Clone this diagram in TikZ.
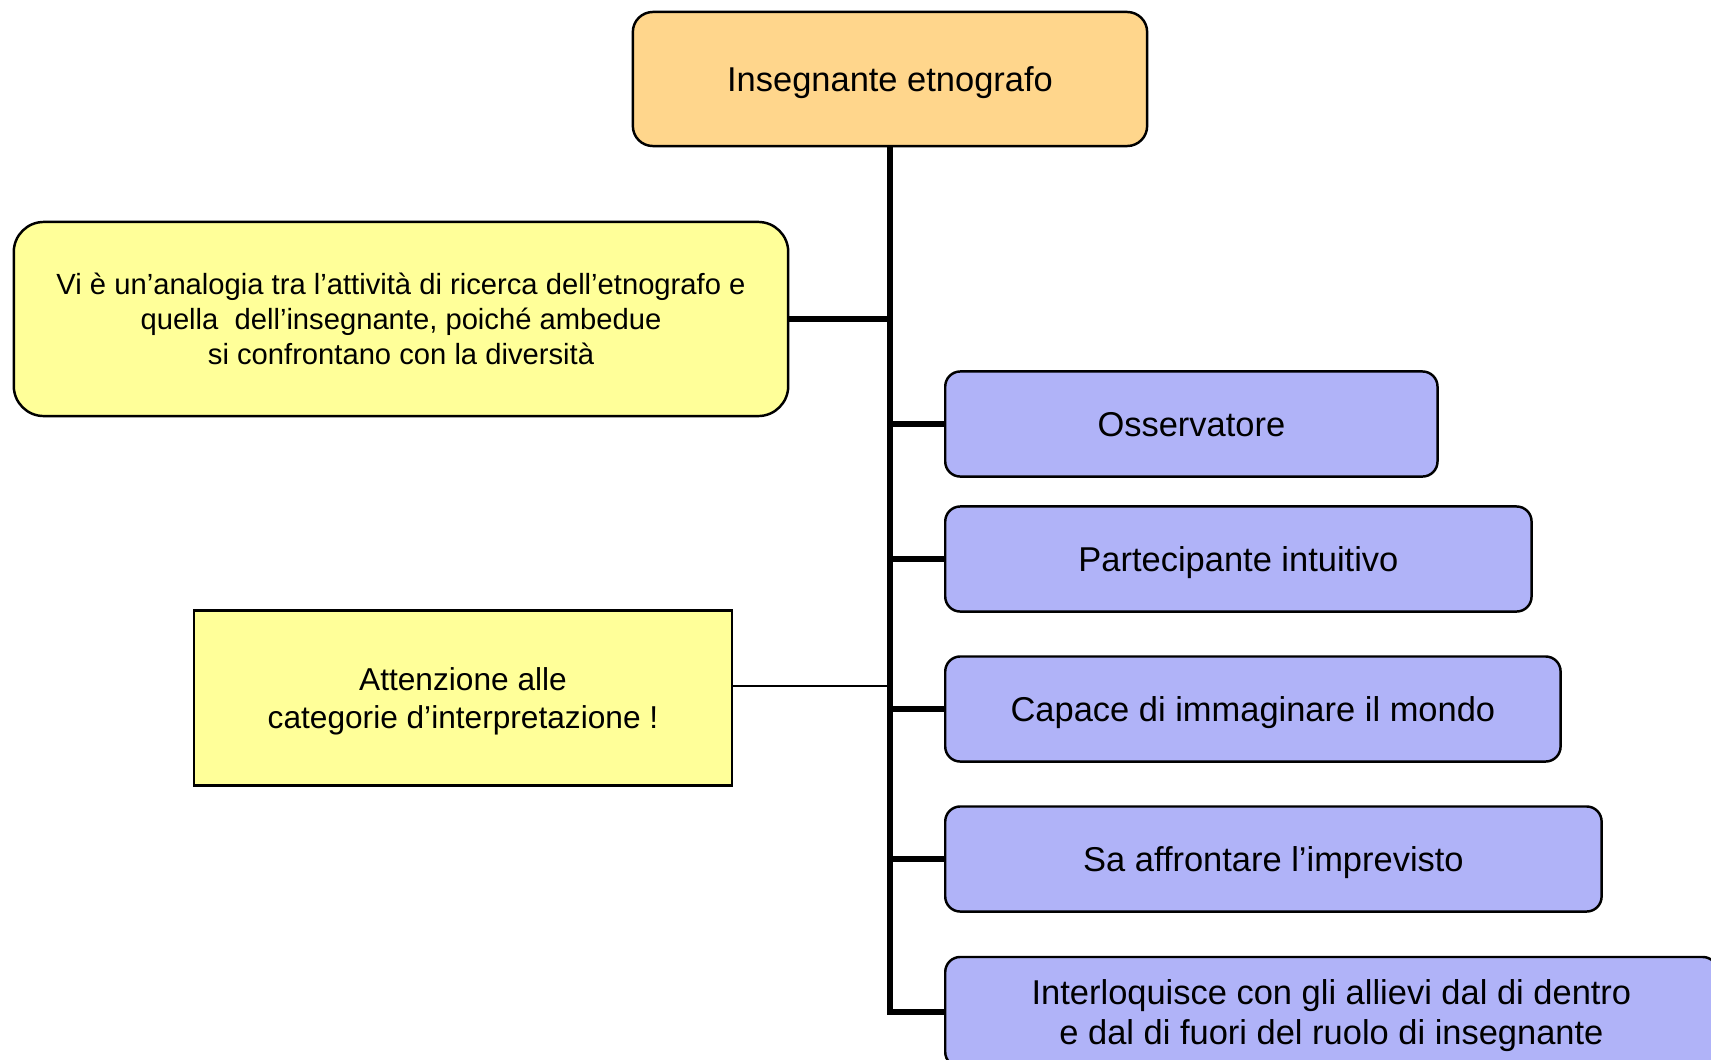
\documentclass[tikz,border=0pt]{standalone}
\usepackage{fontspec}
\setmainfont{Liberation Sans}
\usepackage{xcolor}
\usetikzlibrary{positioning}
\definecolor{rootfill}{RGB}{255,214,140}
\definecolor{notefill}{RGB}{255,255,153}
\definecolor{itemfill}{RGB}{176,179,248}

\begin{document}
\begin{tikzpicture}[x=0.01cm, y=-0.01cm]
\tikzset{RootStyle/.style = {draw, fill=rootfill, rounded corners=0.2cm, line width=0.7pt, text depth=0pt, minimum width=5.14cm, minimum height=1.34cm, font=\fontsize{9.8}{11.8}\selectfont}}
\tikzset{NoteStyle/.style = {draw, fill=notefill, align=center, text depth=0pt, line width=0.7pt}}
\tikzset{ItemStyle/.style = {draw, fill=itemfill, rounded corners=0.15cm, align=center, anchor=west, text depth=0pt, line width=0.7pt, minimum height=1.05cm, font=\fontsize{9.8}{11.4}\selectfont}}
\tikzset{TrunkStyle/.style = {line width=1.6pt, line join=miter}}
  \useasboundingbox (0,0) rectangle (1711,1060);
	\node[RootStyle] (root) at (890,79) {Insegnante etnografo};
	\node[NoteStyle, rounded corners=0.3cm, minimum width=7.74cm, minimum height=1.94cm,
	  font=\fontsize{8.3}{10}\selectfont] (analog) at (401,319)
	  {Vi è un’analogia tra l’attività di ricerca dell’etnografo e\\
	   quella\ \ dell’insegnante, poiché ambedue\\
	   si confrontano con la diversità};
	\node[NoteStyle, minimum width=5.38cm, minimum height=1.75cm,
	  font=\fontsize{9}{10.8}\selectfont] (attn) at (463,698)
	  {Attenzione alle\\ categorie d’interpretazione !};
	\node[ItemStyle, minimum width=4.92cm] (oss) at (944,424) {Osservatore};
	\node[ItemStyle, minimum width=5.86cm] (part) at (944,559) {Partecipante intuitivo};
	\node[ItemStyle, minimum width=6.15cm] (cap) at (944,709) {Capace di immaginare il mondo};
	\node[ItemStyle, minimum width=6.56cm] (sa) at (944,859) {Sa affrontare l’imprevisto};
	\node[ItemStyle, minimum width=7.72cm, minimum height=1.1cm] (inter) at (944,1012)
	  {Interloquisce con gli allievi dal di dentro\\ e dal di fuori del ruolo di insegnante};
	% trunk and branches
	\draw[TrunkStyle] (root.south) -- (root.south |- inter.west) -- (inter.west);
	\draw[TrunkStyle] (analog.east) -- (analog.east -| root.south);
	\foreach \n in {oss, part, cap, sa}
	  \draw[TrunkStyle] (\n.west -| root.south) -- (\n.west);
	\draw[line width=0.6pt] ([yshift=0.12cm]attn.east) -- ([yshift=0.12cm]attn.east -| root.south);
\end{tikzpicture}
\end{document}
